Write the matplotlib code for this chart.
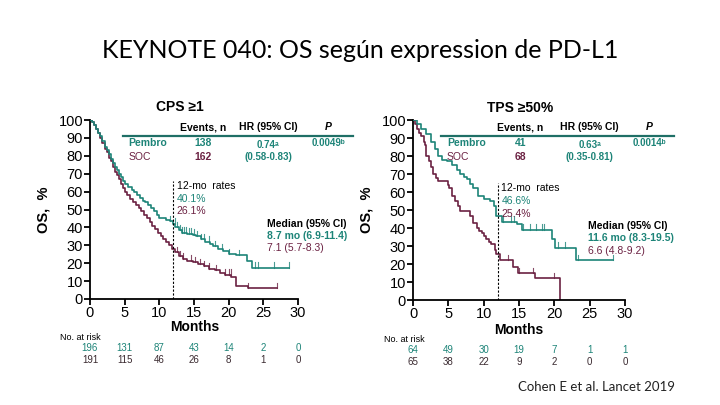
import numpy as np
import matplotlib
matplotlib.use("Agg")
import matplotlib.pyplot as plt

plt.rcParams['font.family'] = ['Liberation Sans', 'DejaVu Sans']

TEAL = '#1d8478'
MAROON = '#6b2142'
LINE_TEAL = '#1f6f66'

# ---------------- Data ----------------
# CPS >= 1
cps_pembro_t = [0, 0.3, 0.6, 0.9, 1.2, 1.5, 1.8, 2.1, 2.4, 2.7, 3.0, 3.3, 3.6, 3.9, 4.2, 4.5, 4.8, 5.1, 5.5,
                6.0, 6.4, 6.8, 7.2, 7.6, 8.0, 8.4, 8.8, 9.2, 9.6, 10.0, 10.5, 11.0, 11.5, 11.9, 12.3, 12.8,
                13.3, 14.0, 14.8, 15.3, 16.0, 16.6, 17.3, 17.8, 18.5, 19.2, 20.0, 21.0, 22.6, 23.4, 28.7]
cps_pembro_s = [100, 99, 97, 95, 93, 91, 88, 85, 83, 81, 78, 76, 74, 72, 70, 68, 66, 64, 62.5,
                61, 59.5, 58, 56.5, 55, 54, 52.5, 51, 49, 47, 45.5, 45, 44, 43.5, 42, 40, 38.5,
                37, 36.5, 36, 35, 33.5, 32, 30.5, 29.5, 28, 27, 25, 24.5, 21, 17.5, 17.5]
cps_soc_t = [0, 0.3, 0.6, 0.9, 1.2, 1.5, 1.8, 2.1, 2.4, 2.7, 3.0, 3.3, 3.6, 3.9, 4.2, 4.5, 4.8, 5.1, 5.4,
             5.8, 6.2, 6.6, 7.0, 7.4, 7.8, 8.2, 8.6, 9.0, 9.4, 9.8, 10.2, 10.6, 11.0, 11.4, 11.8, 12.2,
             12.8, 13.4, 14.0, 14.8, 15.6, 16.4, 17.2, 18.0, 18.8, 19.5, 20.4, 21.1, 22.8, 26.9]
cps_soc_s = [100, 99, 97, 95, 93, 90, 87, 84, 82, 79, 77, 74, 71, 69, 67, 64, 62, 60, 58,
             56, 54, 52.5, 51, 49, 47, 45, 43, 41, 39, 37, 35, 33.5, 32, 30, 28, 26,
             24, 22.5, 21.5, 20.5, 19.5, 18.5, 17, 16, 14.5, 13.5, 12.5, 7.5, 6, 6]
cps_pembro_cens = [11.6, 12.2, 12.6, 13.0, 13.3, 13.6, 13.9, 14.3, 14.6, 15.0, 15.5, 16.0, 16.5, 17.2,
                   18.0, 19.0, 20.0, 21.5, 23.8, 24.2, 26.5, 28.7]
cps_soc_cens = [12.5, 13.0, 13.4, 14.5, 15.2, 15.8, 16.5, 17.2, 18.2, 19.5, 20.0, 20.3, 22.8, 26.9]

# TPS >= 50%
tps_pembro_t = [0, 0.5, 1.2, 1.9, 2.6, 3.1, 3.6, 4.1, 4.8, 5.5, 6.2, 6.7, 7.2, 7.6, 8.0, 8.5, 9.2, 10.0,
                10.9, 11.4, 11.8, 12.6, 14.7, 15.4, 19.7, 20.1, 23.1, 28.3]
tps_pembro_s = [100, 98, 95, 92, 88, 84, 80, 78, 77, 75, 72, 70, 68.5, 67, 64.5, 62, 58, 56,
                55, 52, 46.6, 43.5, 42, 39, 34, 29, 22, 22]
tps_soc_t = [0, 0.3, 0.5, 0.9, 1.2, 1.5, 1.7, 1.9, 2.2, 2.6, 2.9, 3.3, 3.6, 4.9, 5.1, 5.5, 5.9, 6.3, 6.7,
             8.1, 8.5, 9.0, 9.4, 9.7, 10.1, 10.4, 10.8, 11.1, 11.6, 11.8, 12.3, 14.1, 14.9, 17.2, 20.8]
tps_soc_s = [100, 98, 95, 93, 91, 88, 86, 80, 77, 74, 70, 68, 66, 64, 62, 58, 55, 52, 49.5,
             46.5, 43, 40, 38.5, 37, 35.5, 34, 32.5, 31, 28, 25.4, 22, 18.5, 15, 12, 0]
tps_pembro_cens = [12.8, 13.8, 14.3, 15.6, 16.5, 17.4, 18.2, 18.6, 20.5, 21.5, 23.3, 28.3]
tps_soc_cens = [13.5, 15.0, 17.0, 20.0]

months_ticks = [0, 5, 10, 15, 20, 25, 30]
cps_risk_pembro = [196, 131, 87, 43, 14, 2, 0]
cps_risk_soc = [191, 115, 46, 26, 8, 1, 0]
tps_risk_pembro = [64, 49, 30, 19, 7, 1, 1]
tps_risk_soc = [65, 38, 22, 9, 2, 0, 0]

panels = [
    dict(title='CPS ≥1', rect=[90/720, 1-299/405, 208/720, 179/405],
         pt=cps_pembro_t, ps=cps_pembro_s, st=cps_soc_t, ss=cps_soc_s,
         pc=cps_pembro_cens, sc=cps_soc_cens,
         rp=cps_risk_pembro, rs=cps_risk_soc,
         events=('138', '162'), hr=('0.74ᵃ', '(0.58-0.83)'), p='0.0049ᵇ',
         rates=('40.1%', '26.1%'), med=('8.7 mo (6.9-11.4)', '7.1 (5.7-8.3)'),
         xs=dict(line0=4.8, line1=38, name=5.5, ev=16.3, hr=25.7, p=34.4),
         dash_top=66, rate_x=12.5, med_x=25.5, med_y=42,
         title_xy=(180, 107), months_xy=(195, 327), risk_label_xy=(60, 338), risk_y=(348, 360)),
    dict(title='TPS ≥50%', rect=[413/720, 1-300/405, 212/720, 180/405],
         pt=tps_pembro_t, ps=tps_pembro_s, st=tps_soc_t, ss=tps_soc_s,
         pc=tps_pembro_cens, sc=tps_soc_cens,
         rp=tps_risk_pembro, rs=tps_risk_soc,
         events=('41', '68'), hr=('0.63ᵃ', '(0.35-0.81)'), p='0.0014ᵇ',
         rates=('46.6%', '25.4%'), med=('11.6 mo (8.3-19.5)', '6.6 (4.8-9.2)'),
         xs=dict(line0=4.0, line1=37, name=4.8, ev=15.2, hr=25.0, p=33.4),
         dash_top=65, rate_x=12.5, med_x=24.8, med_y=41,
         title_xy=(520, 108), months_xy=(519, 330), risk_label_xy=(384, 339), risk_y=(350, 362)),
]

fig = plt.figure(figsize=(7.2, 4.05), dpi=100)
fig.patch.set_facecolor('white')

fig.text(360/720, 1-50/405, 'KEYNOTE 040: OS según expression de PD-L1', ha='center', va='center',
         fontsize=18, family=['Lato', 'DejaVu Sans'], color='black')
fig.text(597/720, 1-387/405, 'Cohen E et al. Lancet 2019', ha='center', va='center',
         fontsize=9.5, family=['Lato', 'DejaVu Sans'], color='#222222')


def step_value(times, surv, x):
    idx = np.searchsorted(np.asarray(times), x, side='right') - 1
    idx = max(0, min(idx, len(surv) - 1))
    return surv[idx]


for P in panels:
    ax = fig.add_axes(P['rect'])
    ax.step(P['pt'], P['ps'], where='post', color=TEAL, lw=1.2, zorder=3)
    ax.step(P['st'], P['ss'], where='post', color=MAROON, lw=1.2, zorder=2)
    for c in P['pc']:
        v = step_value(P['pt'], P['ps'], c)
        ax.plot([c, c], [v, v + 3], color=TEAL, lw=0.8, alpha=0.8, zorder=3)
    for c in P['sc']:
        v = step_value(P['st'], P['ss'], c)
        ax.plot([c, c], [v, v + 3], color=MAROON, lw=0.8, alpha=0.8, zorder=2)

    ax.set_xlim(0, 30)
    ax.set_ylim(0, 100)
    ax.set_xticks(months_ticks)
    ax.set_yticks(range(0, 101, 10))
    for s in ['top', 'right']:
        ax.spines[s].set_visible(False)
    for s in ['left', 'bottom']:
        ax.spines[s].set_linewidth(1.3)
    ax.tick_params(axis='both', direction='out', length=4, width=1.3, labelsize=10.5, pad=1)
    ax.set_facecolor('none')

    # dashed 12-mo line
    ax.plot([12, 12], [0, P['dash_top']], color='black', lw=0.8, ls=(0, (2, 1.5)), zorder=4)
    ax.text(P['rate_x'], P['dash_top'] - 3, '12-mo  rates', fontsize=7.5, color='black', va='center')
    ax.text(P['rate_x'], P['dash_top'] - 10, P['rates'][0], fontsize=7.5, color=TEAL, va='center')
    ax.text(P['rate_x'], P['dash_top'] - 17, P['rates'][1], fontsize=7.5, color=MAROON, va='center')

    # median
    ax.text(P['med_x'], P['med_y'], 'Median (95% CI)', fontsize=7.5, color='black', va='center',
            fontweight='bold', clip_on=False)
    ax.text(P['med_x'], P['med_y'] - 6.8, P['med'][0], fontsize=7.5, color=TEAL, va='center',
            fontweight='bold', clip_on=False)
    ax.text(P['med_x'], P['med_y'] - 13.6, P['med'][1], fontsize=7.5, color=MAROON, va='center',
            clip_on=False)

    # table
    xs = P['xs']
    ax.plot([xs['line0'], xs['line1']], [91, 91], color=LINE_TEAL, lw=1.6, clip_on=False, zorder=5)
    ax.text(xs['ev'], 96, 'Events, n', fontsize=7.5, ha='center', va='center', fontweight='bold', clip_on=False)
    ax.text(xs['hr'], 96, 'HR (95% CI)', fontsize=7.5, ha='center', va='center', fontweight='bold', clip_on=False)
    ax.text(xs['p'], 96, 'P', fontsize=7.5, ha='center', va='center', fontweight='bold', style='italic', clip_on=False)
    ax.text(xs['name'], 87, 'Pembro', fontsize=7.5, ha='left', va='center', color=TEAL, fontweight='bold', clip_on=False)
    ax.text(xs['name'], 79.3, 'SOC', fontsize=7.5, ha='left', va='center', color=MAROON, clip_on=False)
    ax.text(xs['ev'], 87, P['events'][0], fontsize=7.5, ha='center', va='center', color=TEAL, fontweight='bold', clip_on=False)
    ax.text(xs['ev'], 79.3, P['events'][1], fontsize=7.5, ha='center', va='center', color=MAROON, fontweight='bold', clip_on=False)
    ax.text(xs['hr'], 86, P['hr'][0], fontsize=7, ha='center', va='center', color=TEAL, fontweight='bold', clip_on=False)
    ax.text(xs['hr'], 79.3, P['hr'][1], fontsize=7, ha='center', va='center', color=TEAL, fontweight='bold', clip_on=False)
    ax.text(xs['p'], 87, P['p'], fontsize=7, ha='center', va='center', color=TEAL, fontweight='bold', clip_on=False)

    # title / y label
    tx, ty = P['title_xy']
    fig.text(tx/720, 1-ty/405, P['title'], fontsize=10, fontweight='bold', ha='center', va='center')
    ax.set_ylabel('OS,  %', fontsize=10.5, fontweight='bold', labelpad=6)

    mx, my = P['months_xy']
    fig.text(mx/720, 1-my/405, 'Months', fontsize=10, fontweight='bold', ha='center', va='center')

    rx, ry = P['risk_label_xy']
    fig.text(rx/720, 1-ry/405, 'No. at risk', fontsize=6.5, ha='left', va='center')
    for m, a, b in zip(months_ticks, P['rp'], P['rs']):
        xfig = ax.transData.transform((m, 0))[0] / fig.dpi / 7.2
        fig.text(xfig, 1-P['risk_y'][0]/405, str(a), fontsize=7, ha='center', va='center', color=TEAL)
        fig.text(xfig, 1-P['risk_y'][1]/405, str(b), fontsize=7, ha='center', va='center', color='#3a2a30')

fig.savefig('out.png', dpi=100, facecolor='white')
